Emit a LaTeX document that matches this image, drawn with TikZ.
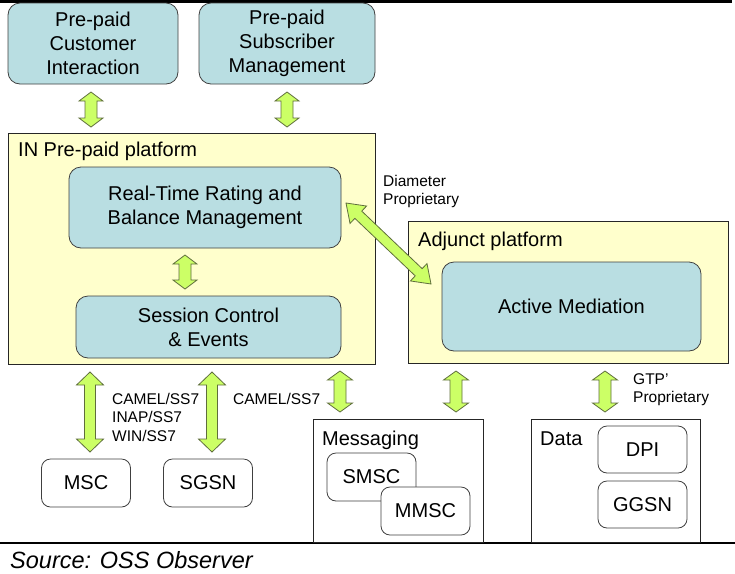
\documentclass[tikz,border=0pt]{standalone}
\usepackage{fontspec}
\setmainfont{Liberation Sans}
\usetikzlibrary{calc}

\definecolor{plateyellow}{RGB}{255,255,204}
\definecolor{boxteal}{RGB}{185,222,226}
\definecolor{arrowgreen}{RGB}{204,255,102}
\definecolor{arrowedge}{RGB}{95,110,60}

% Fat double-headed block arrow between two points:
% #1 start, #2 end, #3 head length, #4 half shaft width, #5 half head width
\newcommand\fatarrow[5]{%
  \filldraw[blockarrow] let \p1=(#1), \p2=(#2),
    \n1={atan2(\y2-\y1,\x2-\x1)}, \n2={veclen(\x2-\x1,\y2-\y1)} in
    [shift={(\p1)}, rotate=\n1]
    (0pt,0pt) -- (#3,#5) -- (#3,#4) -- ({\n2-#3},#4) -- ({\n2-#3},#5)
    -- (\n2,0pt) -- ({\n2-#3},-#5) -- ({\n2-#3},-#4) -- (#3,-#4)
    -- (#3,-#5) -- cycle;%
}

\tikzset{
  blockarrow/.style={fill=arrowgreen, draw=arrowedge, line width=0.8pt, line join=miter},
  bigbox/.style={draw=black!75, fill=boxteal, rounded corners=12pt, line width=0.8pt,
    align=center, inner sep=0pt, font=\fontsize{20}{24}\selectfont},
  platform/.style={draw=black!85, fill=plateyellow, line width=0.8pt, inner sep=0pt},
  group/.style={draw=black!85, fill=white, line width=0.8pt, inner sep=0pt},
  smallbox/.style={draw=black!75, fill=white, rounded corners=9pt, line width=0.8pt,
    inner sep=0pt, minimum width=89pt, minimum height=48pt,
    font=\fontsize{20}{24}\selectfont},
  title/.style={anchor=base west, inner sep=0pt, font=\fontsize{20}{24}\selectfont},
  proto/.style={anchor=north west, inner sep=0pt, align=left,
    font=\fontsize{15.5}{18.5}\selectfont},
  rule/.style={line width=2.2pt, black}
}

\begin{document}
\begin{tikzpicture}[x=1pt, y=-1pt]
\useasboundingbox (0,0) rectangle (735,573);

% rules above and below the figure
\coordinate (topL) at (0,1.5);
\coordinate (topR) at (732,1.5);
\coordinate (botL) at (0,543);
\coordinate (botR) at (735,543);
\draw[rule] (topL) -- (topR);
\draw[rule] (botL) -- (botR);

% upper management boxes
\node[bigbox, minimum width=170pt, minimum height=81pt] (cust) at (93,43.5)
  {Pre-paid\\Customer\\Interaction};
\node[bigbox, minimum width=176pt, minimum height=81pt] (subs) at (287,43.5)
  {Pre-paid\\Subscriber\\Management};

% IN pre-paid platform
\node[platform, minimum width=367pt, minimum height=231pt] (inp) at (191.5,248.5) {};
\node[title] (inlabel) at (18,156) {IN Pre-paid platform};
\node[bigbox, minimum width=272pt, minimum height=81pt] (rtr) at (205,207.5)
  {Real-Time Rating and\\Balance Management};
\node[bigbox, minimum width=265pt, minimum height=62pt] (sess) at (208.5,327)
  {Session Control\\\& Events};

% adjunct platform
\node[platform, minimum width=320pt, minimum height=142pt] (adj) at (568,292) {};
\node[title] (adjlabel) at (418,246) {Adjunct platform};
\node[bigbox, minimum width=259pt, minimum height=89pt] (am) at (571.5,306.5)
  {Active Mediation};

% network elements
\node[smallbox] (msc) at (86,483) {MSC};
\node[smallbox] (sgsn) at (208,483) {SGSN};

\node[group, minimum width=170pt, minimum height=123pt] (msg) at (398,480.5) {};
\node[title] (msglabel) at (322,445) {Messaging};
\node[smallbox] (smsc) at (371.5,477) {SMSC};
\node[smallbox] (mmsc) at (425.5,511) {MMSC};

\node[group, minimum width=169pt, minimum height=123pt] (data) at (615.5,480.5) {};
\node[title] (datalabel) at (540,445) {Data};
\node[smallbox, minimum height=47pt] (dpi) at (642.5,449.5) {DPI};
\node[smallbox, minimum height=47pt] (ggsn) at (642.5,504.5) {GGSN};

% protocol labels
\node[proto] (diam) at (383,175) {Diameter\\Proprietary};
\node[proto] (camel) at (112,393) {CAMEL/SS7\\INAP/SS7\\WIN/SS7};
\node[proto] (camelb) at (233,393) {CAMEL/SS7};
\node[proto] (gtp) at (633,373) {GTP'\\Proprietary};

% source line
\node[anchor=base west, inner sep=0pt, font=\fontsize{23.5}{28}\itshape] (src)
  at (10,568) {Source: OSS Observer};

% arrow end points
\coordinate (a1s) at (91,92);   \coordinate (a1e) at (91,127);
\coordinate (a2s) at (287,92);  \coordinate (a2e) at (287,127);
\coordinate (a3s) at (185,255); \coordinate (a3e) at (185,289);
\coordinate (dgs) at (346,203); \coordinate (dge) at (431,284);
\coordinate (b1s) at (90,372);  \coordinate (b1e) at (90,452);
\coordinate (b2s) at (212,372); \coordinate (b2e) at (212,452);
\coordinate (b3s) at (340,371); \coordinate (b3e) at (340,412);
\coordinate (b4s) at (456,371); \coordinate (b4e) at (456,412);
\coordinate (b5s) at (605,371); \coordinate (b5e) at (605,412);

% block arrows
\fatarrow{a1s}{a1e}{9pt}{6pt}{12pt}
\fatarrow{a2s}{a2e}{9pt}{6pt}{12pt}
\fatarrow{a3s}{a3e}{9pt}{6pt}{12pt}
\fatarrow{dgs}{dge}{17pt}{5pt}{12pt}
\fatarrow{b1s}{b1e}{13pt}{5.5pt}{13.5pt}
\fatarrow{b2s}{b2e}{13pt}{5.5pt}{13.5pt}
\fatarrow{b3s}{b3e}{9pt}{6pt}{12.5pt}
\fatarrow{b4s}{b4e}{9pt}{6pt}{12.5pt}
\fatarrow{b5s}{b5e}{9pt}{6pt}{12.5pt}
\end{tikzpicture}
\end{document}
